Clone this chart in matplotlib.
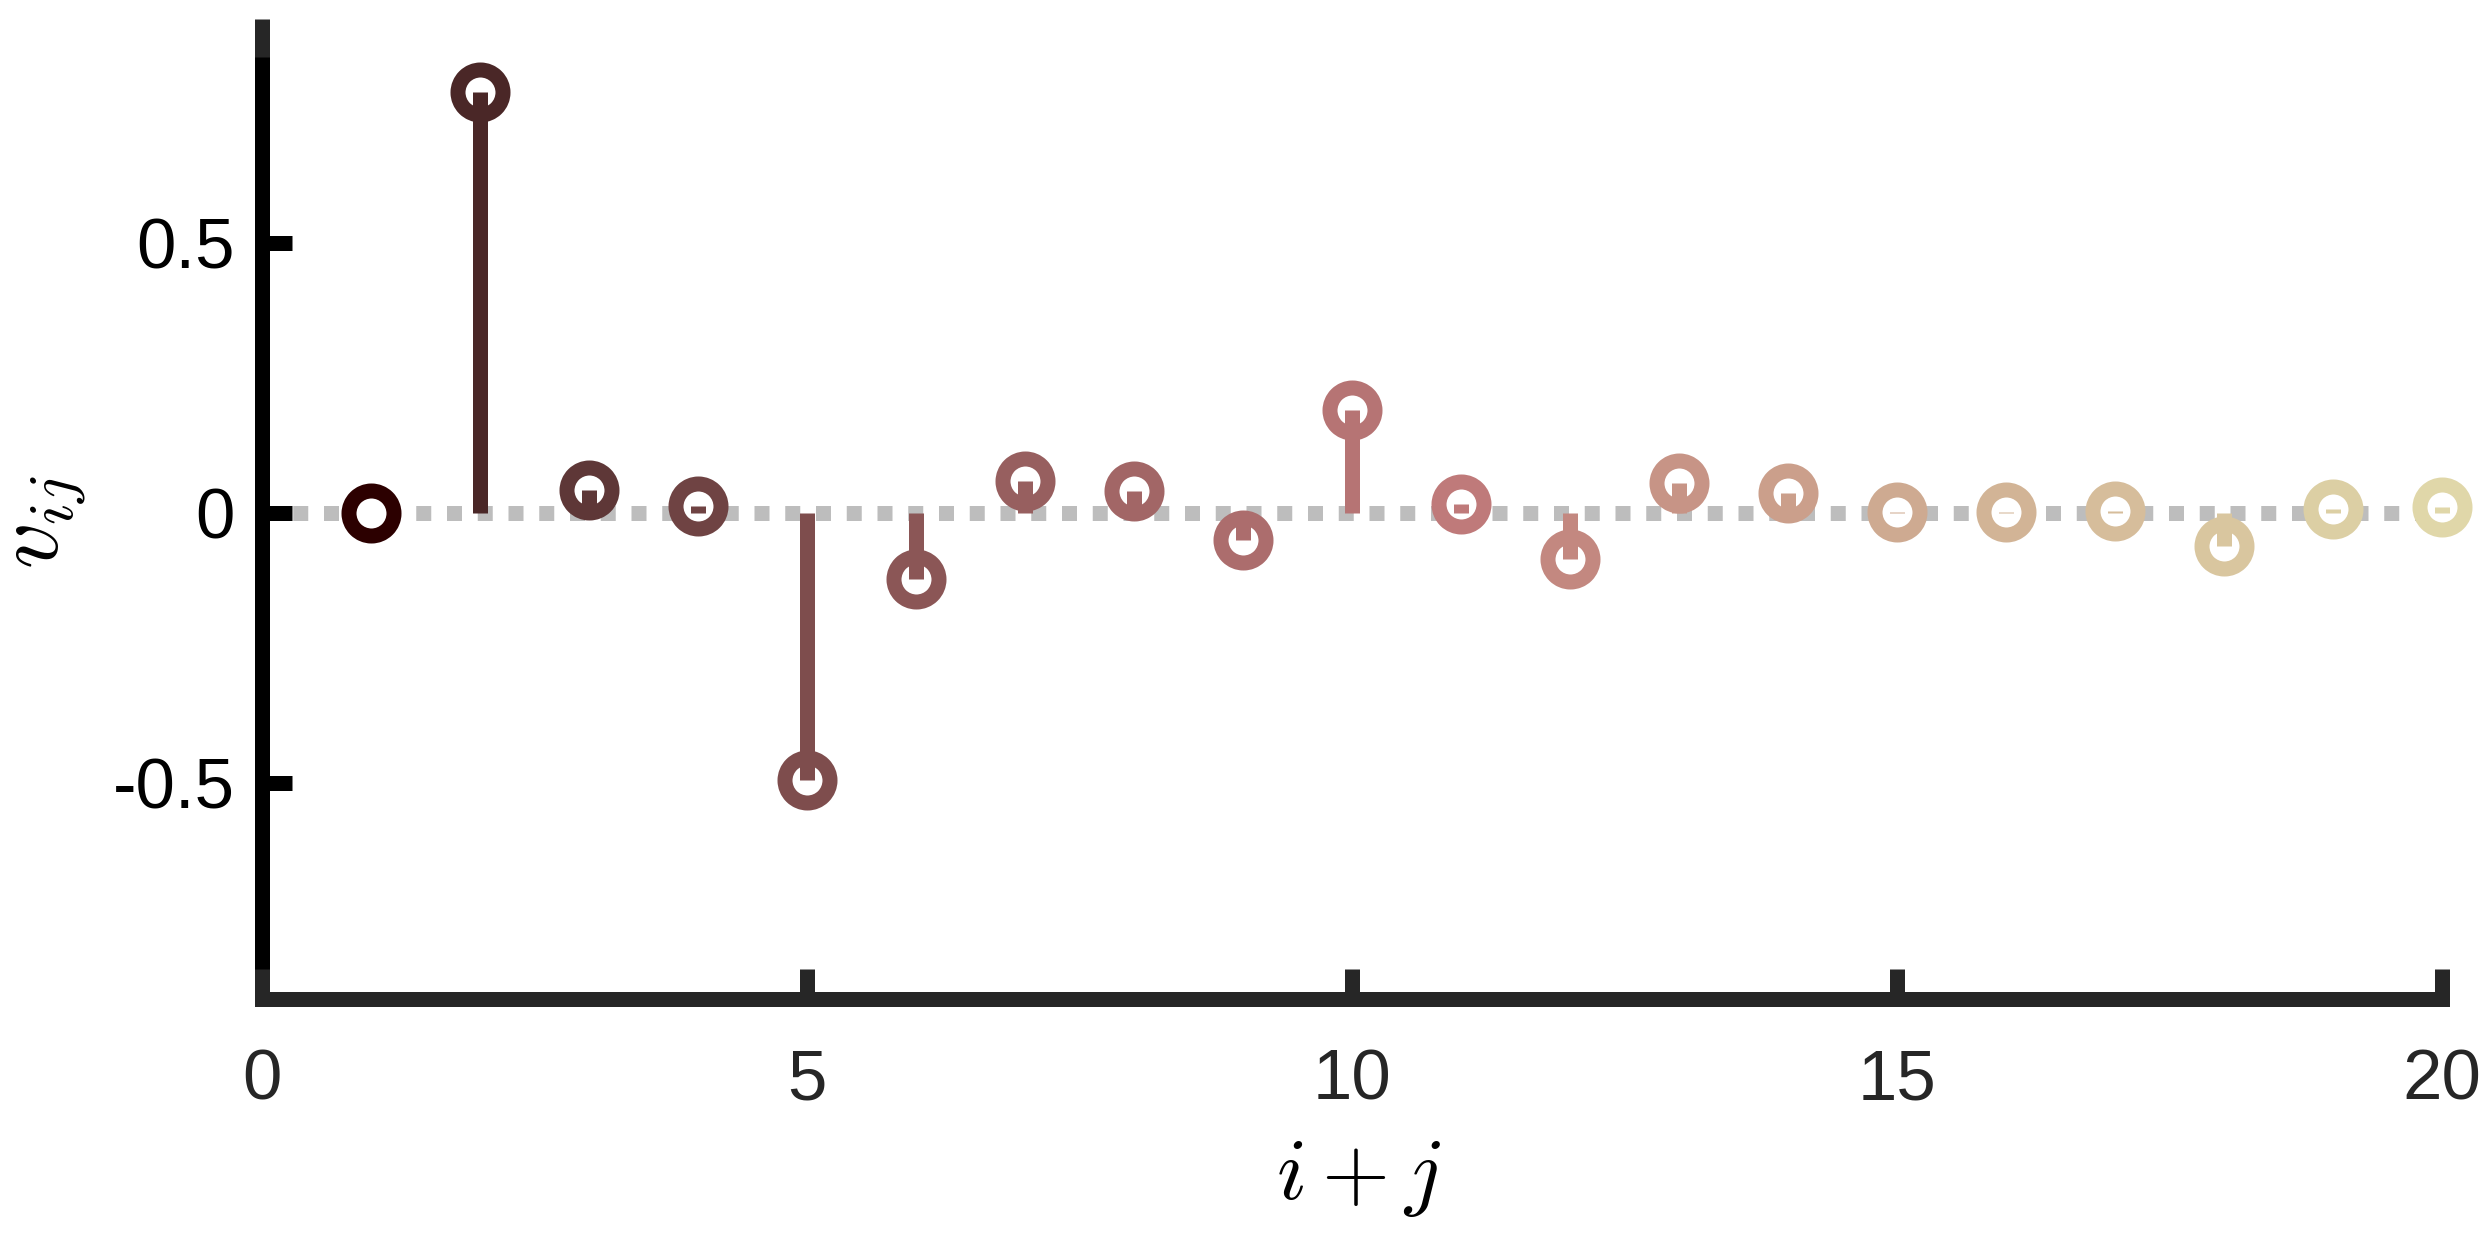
#import packages
import numpy as np
import matplotlib
matplotlib.use('Agg')
import matplotlib.pyplot as plt

plt.rcParams['font.family'] = ['Liberation Sans', 'DejaVu Sans']
plt.rcParams['mathtext.fontset'] = 'cm'
plt.rcParams['axes.unicode_minus'] = False

#data
lag = [1, 2, 3, 4, 5, 6, 7, 8, 9, 10, 11, 12, 13, 14, 15, 16, 17, 18, 19, 20]
v_ij = [0.0, 0.779, 0.042, 0.013, -0.495, -0.122, 0.059, 0.041, -0.051, 0.191,
        0.016, -0.085, 0.055, 0.037, 0.002, 0.002, 0.003, -0.062, 0.006, 0.010]
xticks = [0, 5, 10, 15, 20]
yticks = [-0.5, 0, 0.5]
ytick_labels = ['-0.5', '0', '0.5']

#matlab style pink colormap
def matlab_pink(m):
    n = int(np.fix(3 / 8 * m))
    r = np.concatenate([np.arange(1, n + 1) / n, np.ones(m - n)])
    g = np.concatenate([np.zeros(n), np.arange(1, n + 1) / n, np.ones(m - 2 * n)])
    b = np.concatenate([np.zeros(2 * n), np.arange(1, m - 2 * n + 1) / (m - 2 * n)])
    gray = np.arange(m) / (m - 1)
    hot = np.stack([r, g, b], axis=1)
    return np.sqrt((2 * gray[:, None] + hot) / 3)

colors = matlab_pink(30)[:len(lag)]

fig = plt.figure(figsize=(24.92, 12.34), dpi=100)
ax = fig.add_axes([0.1051, 0.1907, 0.8748, 0.7877])

#dotted baseline
ax.plot([xticks[0], xticks[-1]], [0, 0], color='#bdbdbd', lw=10.8,
        ls=(0, (1, 1.05)), dash_capstyle='butt', zorder=1)

#stems and markers
for x, v, c in zip(lag, v_ij, colors):
    ax.plot(x, v, 'o', ms=32.4, mew=10.8, mec=c, mfc='white', zorder=3, clip_on=False)
    ax.plot([x, x], [0, v], color=c, lw=10.8, solid_capstyle='butt', zorder=4, clip_on=False)

ax.set_xlim(0, 20)
ax.set_ylim(-0.9, 0.9)
ax.set_xticks(xticks)
ax.set_xticklabels([str(t) for t in xticks])
ax.set_yticks(yticks)
ax.set_yticklabels(ytick_labels)

#axes styling
ax.spines['top'].set_visible(False)
ax.spines['right'].set_visible(False)
ax.spines['left'].set_color('black')
ax.spines['bottom'].set_color('#262626')
for s in ['left', 'bottom']:
    ax.spines[s].set_linewidth(10.8)
    ax.spines[s].set_capstyle('projecting')
ax.set_axisbelow(False)
ax.tick_params(axis='both', direction='in', length=21.6, width=10.8)
ax.tick_params(axis='y', colors='black', labelsize=51, pad=19.5)
ax.tick_params(axis='x', colors='#262626', labelsize=51, pad=36)

#little grey cap on top of y axis
ax.plot([0, 0], [0.9688, 1.0079], color='#262626', lw=10.8, solid_capstyle='butt',
        transform=ax.transAxes, clip_on=False, zorder=3)

ax.set_xlabel(r'$i + j$', fontsize=63)
ax.xaxis.set_label_coords(0.503, -0.1433)
ax.set_ylabel(r'$v_{ij}$', fontsize=66)
ax.yaxis.set_label_coords(-0.0798, 0.49)

fig.savefig('out.png', dpi=100)
